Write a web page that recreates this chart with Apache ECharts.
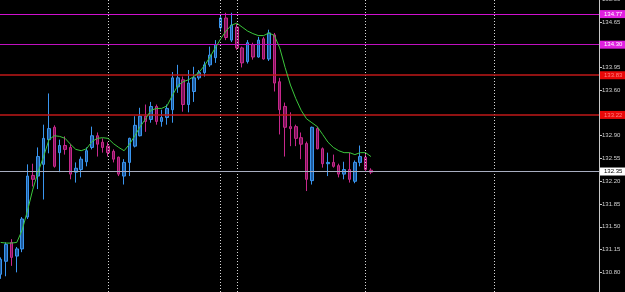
<!DOCTYPE html>
<html>
<head>
<meta charset="utf-8">
<script src="https://cdn.jsdelivr.net/npm/echarts@6/dist/echarts.min.js"></script>
<style>
html,body{margin:0;padding:0;background:#000;}
#c{width:625px;height:292px;}
</style>
</head>
<body>
<div id="c"></div>
<script>
// ---- data ----
const categories = Array.from({length: 112}, (_, i) => String(i));
const opens = [130.77,130.97,131.26,131.05,131.16,131.65,132.29,132.28,132.46,132.84,
133.03,132.64,132.75,132.72,132.34,132.38,132.50,132.72,132.90,132.80,
132.74,132.66,132.57,132.28,132.49,132.74,132.90,133.20,133.15,133.35,
133.12,133.18,133.30,133.65,133.76,133.38,133.58,133.79,133.87,133.99,
134.10,134.56,134.71,134.37,134.57,134.25,134.04,134.30,134.11,134.39,
134.08,134.45,133.73,133.35,133.04,133.04,132.87,132.78,132.21,133.01,
132.70,132.47,132.49,132.44,132.31,132.38,132.20,132.49,132.57,132.37];
const closes = [131.00,131.23,131.03,131.16,131.62,132.28,132.23,132.58,132.86,133.01,
132.43,132.75,132.69,132.31,132.40,132.54,132.67,132.90,132.77,132.72,
132.64,132.54,132.31,132.49,132.86,133.06,133.20,133.12,133.35,133.12,
133.18,133.32,133.79,133.79,133.38,133.71,133.79,133.87,133.99,134.14,
134.30,134.71,134.41,134.60,134.25,134.02,134.33,134.11,134.37,134.08,
134.48,133.71,133.30,133.03,133.01,132.86,132.77,132.23,133.03,132.70,
132.47,132.49,132.43,132.31,132.38,132.23,132.49,132.58,132.38,132.34];
const lows = [130.70,130.74,130.90,130.80,131.11,131.62,132.12,132.08,131.92,132.63,
132.41,132.34,132.61,132.23,132.18,132.26,132.43,132.69,132.58,132.64,
132.58,132.49,132.28,132.15,132.28,132.72,132.89,132.96,133.10,133.07,
133.04,133.07,133.10,133.56,133.27,133.26,133.42,133.76,133.81,133.96,
134.02,134.50,134.37,134.34,134.22,133.95,134.01,134.07,134.10,134.07,
134.05,133.58,132.92,132.58,132.74,132.74,132.54,132.05,132.15,132.69,
132.41,132.28,132.41,132.26,132.23,132.18,132.17,132.43,132.35,132.31];
const highs = [131.03,131.26,131.31,131.19,131.65,132.46,132.47,132.72,133.07,133.55,
133.06,132.84,132.89,132.77,132.49,132.58,132.72,133.04,132.95,132.86,
132.80,132.69,132.58,132.54,132.87,133.20,133.33,133.38,133.42,133.38,
133.30,133.38,133.88,133.99,133.81,133.91,133.96,133.91,134.04,134.27,
134.37,134.76,134.79,134.79,134.62,134.27,134.37,134.33,134.42,134.42,
134.53,134.48,133.79,133.41,133.26,133.07,132.95,132.81,133.04,133.04,
132.72,132.64,132.61,132.47,132.50,132.64,132.52,132.75,132.64,132.40];
const maValues = [131.26,131.25,131.25,131.26,131.45,131.75,132.08,132.35,132.58,132.84,
132.90,132.89,132.86,132.77,132.69,132.67,132.70,132.81,132.86,132.87,
132.86,132.78,132.72,132.67,132.77,132.90,133.04,133.16,133.29,133.32,
133.32,133.36,133.52,133.67,133.73,133.76,133.81,133.88,133.98,134.11,
134.25,134.39,134.51,134.60,134.63,134.57,134.51,134.47,134.44,134.44,
134.48,134.44,134.25,133.95,133.68,133.47,133.29,133.16,133.10,133.04,
132.92,132.80,132.72,132.67,132.64,132.64,132.61,132.64,132.64,132.58];
const tickValues = [130.80,131.15,131.50,131.85,132.20,132.55,132.90,133.25,133.60,133.95,134.30,134.65,135.00];
const levelPrices = [134.77, 134.30, 133.83, 133.22, 132.35];
const levelColors = ['#d010d0', '#c010c0', '#c01818', '#c01818', '#a8aec0'];
const levelWidths = [1, 1, 1.6, 1.6, 1];
const levelBoxColors = ['#e020e0', '#e020e0', '#e80808', '#e80808', '#ffffff'];
const levelTextColors = ['#ffffff', '#ffffff', '#ff8080', '#ff8080', '#000000'];
const separators = ['20', '41', '44', '68', '92'];

const candleData = opens.map((o, i) => [o, closes[i], lows[i], highs[i]]);

const chart = echarts.init(document.getElementById('c'), null, {renderer: 'canvas'});
const lvlData = levelPrices.map((p, k) => ({
  yAxis: p,
  lineStyle: {color: levelColors[k], width: levelWidths[k], type: 'solid'},
  label: {
    show: true, position: 'end', distance: 1,
    formatter: p.toFixed(2),
    color: levelTextColors[k], backgroundColor: levelBoxColors[k],
    fontSize: 6, fontFamily: 'Liberation Sans', padding: [1, 4, 0, 4], lineHeight: 7
  }
}));
const sepData = separators.map(s => ({
  xAxis: s,
  lineStyle: {color: '#d8d8d8', width: 1, type: [1, 2]},
  label: {show: false}
}));

chart.setOption({
  backgroundColor: '#000000',
  animation: false,
  grid: {left: -2, right: 26, top: -1, bottom: 0, containLabel: false, outerBoundsMode: 'none'},
  xAxis: {
    type: 'category', data: categories, show: false, boundaryGap: true
  },
  yAxis: {
    type: 'value', position: 'right', min: 130.498, max: 135.002,
    splitLine: {show: false},
    axisLine: {show: true, lineStyle: {color: '#c8c8c8', width: 1}},
    axisTick: {show: true, customValues: tickValues, length: 3, lineStyle: {color: '#c8c8c8'}},
    axisLabel: {
      customValues: tickValues, color: '#d0d0d0', fontSize: 6, fontFamily: 'Liberation Sans',
      margin: 3, showMaxLabel: true, hideOverlap: false, formatter: v => v.toFixed(2)
    }
  },
  series: [
    {
      type: 'candlestick', data: candleData, barWidth: 3,
      itemStyle: {
        color: '#1f5a9a', color0: '#7a1458',
        borderColor: '#3a96f0', borderColor0: '#c8288c', borderWidth: 1
      },
      markLine: {
        silent: true, symbol: ['none', 'none'], animation: false,
        data: sepData.concat(lvlData)
      }
    },
    {
      type: 'line', data: maValues, showSymbol: false, symbol: 'none',
      lineStyle: {color: '#3cc83c', width: 1}, z: 5
    }
  ]
});
</script>
</body>
</html>
